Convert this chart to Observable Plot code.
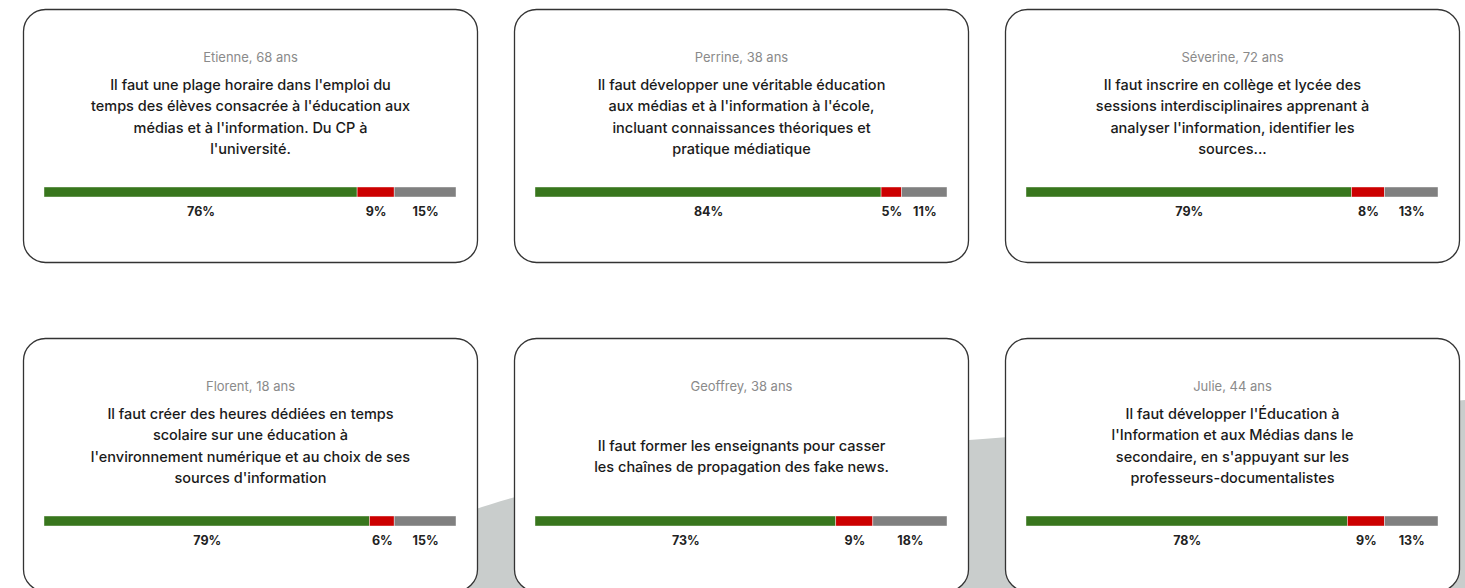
<!DOCTYPE html>
<html>
<head>
<meta charset="utf-8">
<script src="https://cdn.jsdelivr.net/npm/d3@7"></script>
<script src="https://cdn.jsdelivr.net/npm/@observablehq/plot@0.6"></script>
<style>
  html, body { margin: 0; padding: 0; background: #fff; overflow: hidden; }
  #wrap { position: relative; width: 1465px; height: 588px; overflow: hidden; }
  #deco { position: absolute; left: 0; top: 0; }
  #chart { position: absolute; left: 0; top: 0; }
</style>
</head>
<body>
<div id="wrap">
  <svg id="deco" width="1465" height="588"><path d="M370,600 C405,450 800,462 1465,400 L1465,600 Z" fill="#c9cdcc"/></svg>
  <div id="chart"></div>
</div>
<script>
// ---- Data ----
const names = ["Etienne", "Perrine", "Séverine", "Florent", "Geoffrey", "Julie"];
const ages = [68, 38, 72, 18, 38, 44];
const quotes = [
  "Il faut une plage horaire dans l'emploi du\ntemps des élèves consacrée à l'éducation aux\nmédias et à l'information. Du CP à\nl'université.",
  "Il faut développer une véritable éducation\naux médias et à l'information à l'école,\nincluant connaissances théoriques et\npratique médiatique",
  "Il faut inscrire en collège et lycée des\nsessions interdisciplinaires apprenant à\nanalyser l'information, identifier les\nsources...",
  "Il faut créer des heures dédiées en temps\nscolaire sur une éducation à\nl'environnement numérique et au choix de ses\nsources d'information",
  "Il faut former les enseignants pour casser\nles chaînes de propagation des fake news.",
  "Il faut développer l'Éducation à\nl'Information et aux Médias dans le\nsecondaire, en s'appuyant sur les\nprofesseurs-documentalistes"
];
const categories = ["Pour", "Contre", "Sans avis"];
const pour = [76, 84, 79, 79, 73, 78];
const contre = [9, 5, 8, 6, 9, 9];
const sansAvis = [15, 11, 13, 15, 18, 13];
const colors = ["#38761d", "#cc0000", "#808080"];

// ---- Tables built from arrays ----
const cards = names.map((n, i) => ({
  col: i % 3, row: Math.floor(i / 3),
  name: `${n}, ${ages[i]} ans`,
  quote: quotes[i],
  nLines: quotes[i].split("\n").length
}));
const series = [pour, contre, sansAvis];
const segments = [];
names.forEach((n, i) => {
  categories.forEach((c, k) => {
    segments.push({col: i % 3, row: Math.floor(i / 3), category: c, value: series[k][i]});
  });
});

const font = "Inter, 'Open Sans', sans-serif";

const chart = Plot.plot({
  width: 1465,
  height: 592,
  marginLeft: 22,
  marginRight: 4,
  marginTop: 8,
  marginBottom: 0,
  style: {background: "transparent", fontFamily: font, overflow: "visible"},
  fx: {axis: null, domain: [0, 1, 2], paddingInner: 0.075, paddingOuter: 0},
  fy: {axis: null, domain: [0, 1], paddingInner: 0.23, paddingOuter: 0},
  x: {axis: null, domain: [0, 100], insetLeft: 21, insetRight: 21},
  color: {domain: categories, range: colors},
  marks: [
    Plot.frame({fill: "white", stroke: "#333", strokeWidth: 1.3, rx: 22}),
    Plot.text(cards, {fx: "col", fy: "row", text: "name", frameAnchor: "top", dy: 43,
      fill: "#8a8a8a", fontSize: 13}),
    Plot.text(cards, {filter: d => d.nLines > 2, fx: "col", fy: "row", text: "quote",
      frameAnchor: "top", lineAnchor: "top", dy: 65, lineHeight: 1.48, fill: "#1a1a1a",
      fontSize: 14.5, fontWeight: 500}),
    Plot.text(cards, {filter: d => d.nLines <= 2, fx: "col", fy: "row", text: "quote",
      frameAnchor: "top", lineAnchor: "top", dy: 97, lineHeight: 1.48, fill: "#1a1a1a",
      fontSize: 14.5, fontWeight: 500}),
    Plot.barX(segments, Plot.stackX({fx: "col", fy: "row", x: "value", fill: "category",
      insetTop: 178, insetBottom: 65, stroke: "white", strokeWidth: 0.6, strokeOpacity: 0.7})),
    Plot.text(segments, Plot.stackX({fx: "col", fy: "row", x: "value",
      text: d => d.value + "%", frameAnchor: "top", dy: 198,
      fill: "#222", fontWeight: "bold", fontSize: 12.5}))
  ]
});
document.getElementById("chart").appendChild(chart);
</script>
</body>
</html>
